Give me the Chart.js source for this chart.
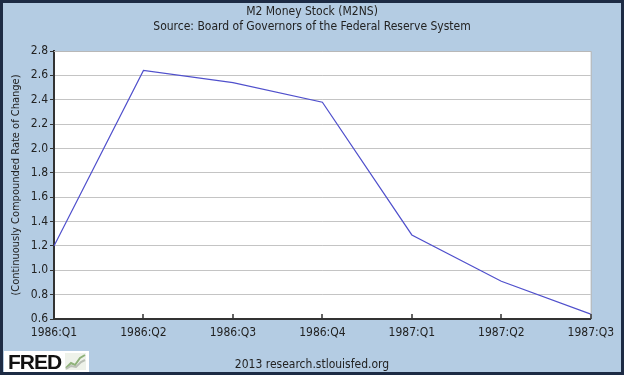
<!DOCTYPE html>
<html lang="en">
<head>
    <meta charset="UTF-8">
    <title>M2 Money Stock (M2NS)</title>
    <script src="https://cdn.jsdelivr.net/npm/chart.js"></script>
    <style>
        html, body { margin: 0; padding: 0; }
        .frame {
            position: relative;
            width: 624px;
            height: 375px;
            box-sizing: border-box;
            border: 3px solid #1d2b44;
            background: #b4cce3;
            font-family: "DejaVu Sans Condensed", "DejaVu Sans", sans-serif;
        }
        .plot { position: absolute; left: 0; top: 0; width: 618px; height: 369px; }
        .fred {
            position: absolute;
            left: 1px;
            top: 348px;
            width: 85px;
            height: 21px;
            background: #fff;
            font-family: "Liberation Sans", Arial, sans-serif;
            font-weight: bold;
            font-size: 21px;
            line-height: 21px;
            color: #111;
            letter-spacing: -1px;
        }
        .fred span { position: absolute; left: 4px; top: 0; }
        .fred svg { position: absolute; left: 61px; top: 2px; }
        .credit {
            position: absolute;
            left: 0;
            width: 618px;
            top: 354px;
            text-align: center;
            font-size: 12px;
            line-height: 14px;
            color: #222;
        }
    </style>
</head>
<body>
    <div class="frame">
        <div class="plot"><canvas id="m2Chart"></canvas></div>
        <div class="fred"><span>FRED</span>
            <svg width="21" height="17" viewBox="0 0 21 17">
                <rect x="0" y="0" width="21" height="17" fill="#eef2ea"/>
                <polyline points="1,15 6,10 10,12 15,5 20,2" fill="none" stroke="#8fb27a" stroke-width="2"/>
                <polyline points="1,16 6,13 11,14 16,9 20,7" fill="none" stroke="#b9bfb5" stroke-width="2"/>
            </svg>
        </div>
        <div class="credit">2013 research.stlouisfed.org</div>
    </div>

    <script>
        const quarters = ["1986:Q1", "1986:Q2", "1986:Q3", "1986:Q4", "1987:Q1", "1987:Q2", "1987:Q3"];
        const rateOfChange = [1.20, 2.64, 2.54, 2.38, 1.29, 0.91, 0.64];
        const titleLines = ["M2 Money Stock (M2NS)", "Source: Board of Governors of the Federal Reserve System"];
        const yLabel = "(Continuously Compounded Rate of Change)";

        const FONT = "'DejaVu Sans Condensed', 'DejaVu Sans', sans-serif";

        // white plot, titles, plot border and the little inward x ticks
        const fredDecor = {
            id: "fredDecor",
            beforeDraw(chart) {
                const { ctx, chartArea } = chart;
                ctx.save();
                ctx.fillStyle = "#fff";
                ctx.fillRect(chartArea.left, chartArea.top, chartArea.right - chartArea.left, chartArea.bottom - chartArea.top);
                ctx.restore();
            },
            afterDatasetsDraw(chart) {
                const { ctx, chartArea } = chart;
                const x = chart.scales.x;
                ctx.save();
                ctx.strokeStyle = "#b8b8b8";
                ctx.lineWidth = 1;
                ctx.beginPath();
                ctx.moveTo(chartArea.left, chartArea.top + 0.5);
                ctx.lineTo(chartArea.right + 0.5, chartArea.top + 0.5);
                ctx.lineTo(chartArea.right + 0.5, chartArea.bottom);
                ctx.stroke();

                ctx.strokeStyle = "#333";
                ctx.lineWidth = 1.5;
                ctx.beginPath();
                x.ticks.forEach((t, i) => {
                    if (i === 0) return;
                    const px = Math.round(x.getPixelForTick(i));
                    ctx.moveTo(px, chartArea.bottom);
                    ctx.lineTo(px, chartArea.bottom - 5);
                });
                ctx.stroke();
                ctx.restore();
            },
            afterDraw(chart) {
                const { ctx } = chart;
                ctx.save();
                ctx.fillStyle = "#222";
                ctx.font = "12px " + FONT;
                ctx.textAlign = "center";
                ctx.textBaseline = "middle";
                ctx.fillText(titleLines[0], 309, 9);
                ctx.fillText(titleLines[1], 309, 24);
                ctx.restore();
            }
        };

        const ctx = document.getElementById("m2Chart").getContext("2d");
        new Chart(ctx, {
            type: "line",
            data: {
                labels: quarters,
                datasets: [{
                    label: "M2NS",
                    data: rateOfChange,
                    borderColor: "#5050cc",
                    borderWidth: 1.2,
                    pointRadius: 0,
                    tension: 0,
                    fill: false
                }]
            },
            options: {
                responsive: true,
                maintainAspectRatio: false,
                animation: false,
                layout: { padding: { top: 48, right: 30, left: 0, bottom: 0 } },
                plugins: {
                    legend: { display: false },
                    title: { display: false },
                    tooltip: { enabled: false }
                },
                scales: {
                    x: {
                        offset: false,
                        afterFit(scale) { scale.height = 53; },
                        grid: { drawOnChartArea: false, drawTicks: false },
                        border: { color: "#333", width: 2 },
                        ticks: {
                            color: "#222",
                            font: { family: FONT, size: 12 },
                            padding: 7,
                            maxRotation: 0,
                            autoSkip: false
                        }
                    },
                    y: {
                        min: 0.6,
                        max: 2.8,
                        afterFit(scale) { scale.width = 51; },
                        grid: { color: "#c4c4c4", tickColor: "#333", tickLength: 4, lineWidth: 1 },
                        border: { color: "#333", width: 2 },
                        ticks: {
                            stepSize: 0.2,
                            color: "#222",
                            font: { family: FONT, size: 12 },
                            padding: 2,
                            callback: v => v.toFixed(1)
                        },
                        title: {
                            display: true,
                            text: yLabel,
                            color: "#222",
                            font: { family: FONT, size: 11 },
                            padding: { top: 7, bottom: 0 }
                        }
                    }
                }
            },
            plugins: [fredDecor]
        });
    </script>
</body>
</html>
